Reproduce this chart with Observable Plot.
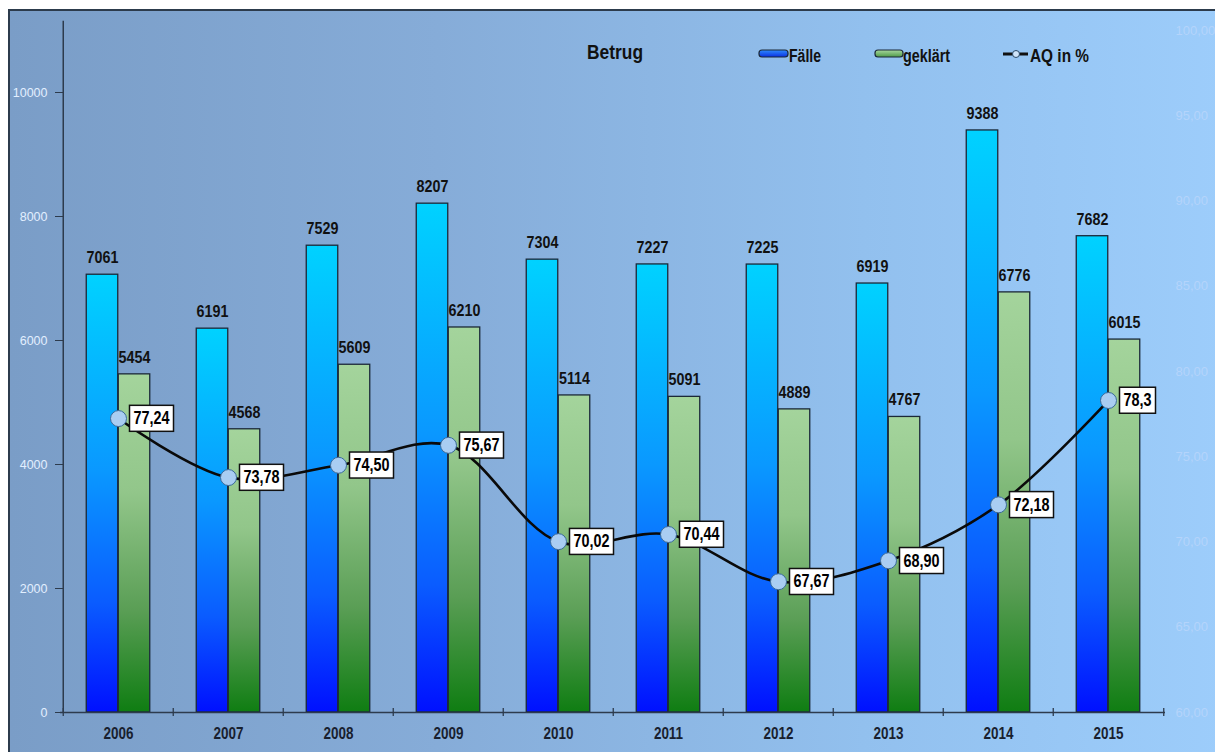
<!DOCTYPE html>
<html><head><meta charset="utf-8">
<script src="https://cdn.jsdelivr.net/npm/d3@7"></script>
<script src="https://cdn.jsdelivr.net/npm/@observablehq/plot@0.6"></script>
<style>
body{margin:0;background:#fff;overflow:hidden}
#wrap{position:relative;width:1215px;height:752px;overflow:hidden}
#bg{position:absolute;left:8px;top:9px;width:1220px;height:760px;border-top:2px solid #2c3b4c;border-left:2px solid #2c3b4c;background:linear-gradient(to right,#7a9dc7 0%,#86acd8 35%,#92c0ee 70%,#9dcdfb 100%);}
#chart{position:absolute;left:0;top:0}
#legend{position:absolute;left:0;top:0}
</style></head>
<body>
<div id="wrap"><div id="bg"></div><div id="chart"></div>
<svg id="legend" width="1215" height="80" font-family="'Liberation Sans',Arial,sans-serif" font-weight="bold">
  <defs>
    <linearGradient id="lgBlue" x1="0" y1="0" x2="0" y2="1"><stop offset="0" stop-color="#2f8cff"/><stop offset="1" stop-color="#0a2fe0"/></linearGradient>
    <linearGradient id="lgGreen" x1="0" y1="0" x2="0" y2="1"><stop offset="0" stop-color="#a8d89e"/><stop offset="1" stop-color="#4f9a48"/></linearGradient>
  </defs>
  <text x="587" y="59" font-size="21" fill="#111" textLength="56" lengthAdjust="spacingAndGlyphs">Betrug</text>
  <rect x="759" y="50" width="29" height="7" rx="3" fill="url(#lgBlue)" stroke="#1b2838" stroke-width="1.2"/>
  <text x="789" y="62" font-size="18" fill="#111" textLength="32" lengthAdjust="spacingAndGlyphs">Fälle</text>
  <rect x="875" y="50" width="28" height="7" rx="3" fill="url(#lgGreen)" stroke="#1b2838" stroke-width="1.2"/>
  <text x="903" y="62" font-size="18" fill="#111" textLength="47" lengthAdjust="spacingAndGlyphs">geklärt</text>
  <line x1="1003" y1="54" x2="1028" y2="54" stroke="#111" stroke-width="3"/>
  <circle cx="1016" cy="54" r="3.5" fill="#cfe4fa" stroke="#2a4a6a" stroke-width="1"/>
  <text x="1030" y="62" font-size="18" fill="#111" textLength="59" lengthAdjust="spacingAndGlyphs">AQ in %</text>
</svg>
</div>
<script>
const years = ["2006","2007","2008","2009","2010","2011","2012","2013","2014","2015"];
const faelle = [7061, 6191, 7529, 8207, 7304, 7227, 7225, 6919, 9388, 7682];
const geklaert = [5454, 4568, 5609, 6210, 5114, 5091, 4889, 4767, 6776, 6015];
const aq = [77.24, 73.78, 74.50, 75.67, 70.02, 70.44, 67.67, 68.90, 72.18, 78.3];
const aqLabels = ["77,24","73,78","74,50","75,67","70,02","70,44","67,67","68,90","72,18","78,3"];
const leftTicks = [0, 2000, 4000, 6000, 8000, 10000];
const rightTicks = [60, 65, 70, 75, 80, 85, 90, 95, 100];

const yMax = 11000;
const k = yMax / 40;                 // right axis 60..100 mapped onto left 0..11000
const toLeft = v => (v - 60) * k;
const rows = years.map((y, i) => ({year: y, faelle: faelle[i], geklaert: geklaert[i], aq: aq[i], aqLabel: aqLabels[i]}));

const W = 1215, H = 752, mL = 60, mR = 50, mT = 30, mB = 40;
const half = (W - mL - mR) / years.length / 2;
const barW = 32;
const sans = "'Liberation Sans',Arial,sans-serif";
const axisColor = "#2d3b4d";

const chart = Plot.plot({
  width: W, height: H,
  marginLeft: mL, marginRight: mR, marginTop: mT, marginBottom: mB,
  style: {background: "transparent", overflow: "visible"},
  x: {type: "band", domain: years, padding: 0, axis: null},
  y: {domain: [0, yMax], axis: null},
  marks: [
    Plot.axisY(leftTicks, {anchor: "left", label: null, tickSize: 8, dx: 3, tickPadding: 8, stroke: axisColor, fill: "#e2efff", fontSize: 12.5, fontFamily: sans, tickFormat: d => String(d)}),
    Plot.axisY(rightTicks.map(toLeft), {anchor: "right", label: null, tickSize: 0, tickPadding: 10, fill: "#b4d4fb", fontSize: 13, fontFamily: sans, tickFormat: v => (v / k + 60).toFixed(2).replace(".", ",")}),
    Plot.barY(rows, {x: "year", y: "faelle", fill: "url(#gBlue)", stroke: "#1b2838", strokeWidth: 1.3, insetLeft: half - barW, insetRight: half}),
    Plot.barY(rows, {x: "year", y: "geklaert", fill: "url(#gGreen)", stroke: "#1b2838", strokeWidth: 1.3, insetLeft: half, insetRight: half - barW}),
    Plot.ruleY([0], {stroke: axisColor, strokeWidth: 1.5}),
    Plot.ruleX([years[0]], {x: d => d, dx: -half, y1: 0, y2: 11150, stroke: axisColor, strokeWidth: 1.5}),
    Plot.ruleX(years, {x: d => d, dx: -half, y1: -65, y2: 65, stroke: axisColor, strokeWidth: 1.3}),
    Plot.ruleX([years[years.length - 1]], {x: d => d, dx: half, y1: -65, y2: 65, stroke: axisColor, strokeWidth: 1.3}),
    Plot.axisX({anchor: "bottom", label: null, tickSize: 0, tickPadding: 15, fontSize: 16, fontWeight: "bold", fill: "#18202e", fontFamily: sans}),
    Plot.text(rows, {x: "year", y: "faelle", text: d => String(d.faelle), dx: -barW / 2, dy: -17, fontSize: 17, fontWeight: "bold", fill: "#111111", fontFamily: sans}),
    Plot.text(rows, {x: "year", y: "geklaert", text: d => String(d.geklaert), dx: barW / 2, dy: -17, fontSize: 17, fontWeight: "bold", fill: "#111111", fontFamily: sans}),
    Plot.line(rows, {x: "year", y: d => toLeft(d.aq), curve: "catmull-rom", stroke: "#0a0a0a", strokeWidth: 2.6}),
    Plot.dot(rows, {x: "year", y: d => toLeft(d.aq), r: 8, fill: "#a9cdf2", stroke: "#3a6a9a", strokeWidth: 1}),
    Plot.text(rows, {x: "year", y: d => toLeft(d.aq), text: "aqLabel", dx: 15, textAnchor: "start", fontSize: 18, fontWeight: "bold", fill: "#000001", fontFamily: sans})
  ]
});
document.getElementById("chart").appendChild(chart);

// gradients for bars
const ns = "http://www.w3.org/2000/svg";
const defs = document.createElementNS(ns, "defs");
defs.innerHTML = `
<linearGradient id="gBlue" x1="0" y1="0" x2="0" y2="1">
  <stop offset="0" stop-color="#00d2ff"/><stop offset="0.45" stop-color="#0a98ff"/><stop offset="0.75" stop-color="#0a5cff"/><stop offset="1" stop-color="#0010ff"/>
</linearGradient>
<linearGradient id="gGreen" x1="0" y1="0" x2="0" y2="1">
  <stop offset="0" stop-color="#a4d49c"/><stop offset="0.35" stop-color="#92c68a"/><stop offset="0.7" stop-color="#5a9e55"/><stop offset="1" stop-color="#0f7d12"/>
</linearGradient>`;
chart.insertBefore(defs, chart.firstChild);

// narrow (condensed) look, like the original's Arial Narrow
function condense(sel, f) {
  chart.querySelectorAll(sel).forEach(t => {
    const L = t.getComputedTextLength();
    t.setAttribute("textLength", (L * f).toFixed(1));
    t.setAttribute("lengthAdjust", "spacingAndGlyphs");
  });
}
condense('g[fill="#111111"] text', 0.84);
condense('g[fill="#18202e"] text', 0.84);
condense('g[fill="#000001"] text', 0.8);

// boxes behind the AQ labels
chart.querySelectorAll('g[fill="#000001"] text').forEach(t => {
  const b = t.getBBox();
  const cy = b.y + b.height / 2;
  const r = document.createElementNS(ns, "rect");
  r.setAttribute("x", b.x - 4); r.setAttribute("y", cy - 13);
  r.setAttribute("width", b.width + 8); r.setAttribute("height", 26);
  r.setAttribute("fill", "#ffffff"); r.setAttribute("stroke", "#111"); r.setAttribute("stroke-width", 1.5);
  const tr = t.getAttribute("transform"); if (tr) r.setAttribute("transform", tr);
  t.parentNode.insertBefore(r, t);
});
</script>
</body></html>
